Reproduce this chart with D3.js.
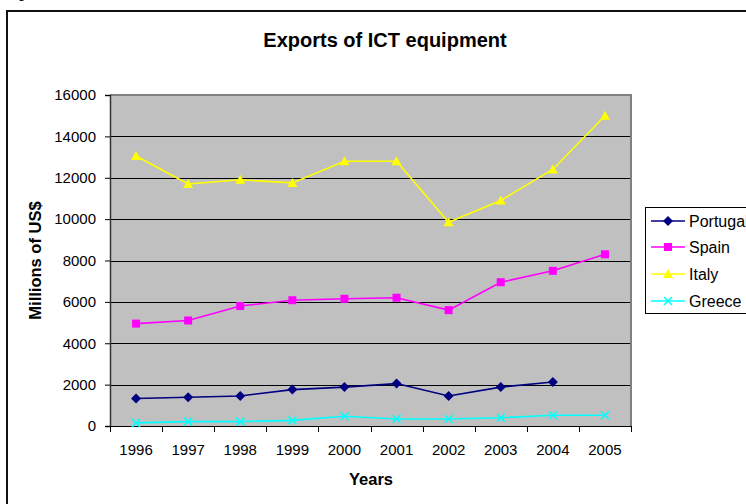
<!DOCTYPE html>
<html>
<head>
<meta charset="utf-8">
<script src="https://cdn.jsdelivr.net/npm/d3@7"></script>
<style>
  html, body { margin: 0; padding: 0; background: #fff; }
  svg { display: block; }
  text { font-family: "Liberation Sans", Arial, sans-serif; }
</style>
</head>
<body>
<svg id="chart" width="746" height="504"></svg>
<script>
// Exports of ICT equipment, millions of US$
const years = ["1996", "1997", "1998", "1999", "2000", "2001", "2002", "2003", "2004", "2005"];
const portugal = [1330, 1390, 1450, 1760, 1880, 2050, 1450, 1880, 2130, null];
const spain    = [4950, 5100, 5800, 6080, 6150, 6200, 5600, 6950, 7500, 8300];
const italy    = [13050, 11700, 11900, 11750, 12800, 12800, 9850, 10900, 12400, 15000];
const greece   = [150, 210, 210, 270, 470, 340, 340, 400, 520, 520];
const yTicks   = [0, 2000, 4000, 6000, 8000, 10000, 12000, 14000, 16000];

const seriesList = [
  { name: "Portugal", values: portugal, color: "#000080", marker: "diamond" },
  { name: "Spain",    values: spain,    color: "#FF00FF", marker: "square" },
  { name: "Italy",    values: italy,    color: "#FFFF00", marker: "triangle" },
  { name: "Greece",   values: greece,   color: "#00FFFF", marker: "cross" }
];

const svg = d3.select("#chart");
const plot = { left: 110, top: 95, right: 631, bottom: 426 };

// Leftover glyph of the surrounding document above the chart frame
svg.append("text").attr("x", 19).attr("y", -4)
  .style("font-family", "'Liberation Serif', 'Times New Roman', serif")
  .style("font-size", "20px").attr("fill", "#000").text("p");

// Chart frame
svg.append("rect").attr("x", 7).attr("y", 11).attr("width", 800).attr("height", 600)
  .attr("fill", "none").attr("stroke", "#111").attr("stroke-width", 2);

const x = d3.scaleBand().domain(years).range([plot.left, plot.right]).padding(0);
const y = d3.scaleLinear().domain([0, 16000]).range([plot.bottom, plot.top]);

// Plot background
svg.append("rect").attr("x", plot.left).attr("y", plot.top)
  .attr("width", plot.right - plot.left).attr("height", plot.bottom - plot.top)
  .attr("fill", "#C0C0C0");

// Horizontal gridlines
svg.append("g").selectAll("line").data(yTicks.filter(d => d > 0 && d < 16000)).join("line")
  .attr("x1", plot.left).attr("x2", plot.right)
  .attr("y1", d => Math.round(y(d)) + 0.5).attr("y2", d => Math.round(y(d)) + 0.5)
  .attr("stroke", "#000").attr("stroke-width", 1);

// Top and right border of the plot area
svg.append("path")
  .attr("d", `M${plot.left},${plot.top} H${plot.right} V${plot.bottom}`)
  .attr("fill", "none").attr("stroke", "#808080").attr("stroke-width", 2);

// Y axis
const yAxis = svg.append("g").attr("transform", `translate(${plot.left},0)`)
  .call(d3.axisLeft(y).tickValues(yTicks).tickSize(5).tickPadding(9).tickFormat(d3.format("d")));
yAxis.select(".domain").attr("stroke", "#333").attr("stroke-width", 1.5);
yAxis.selectAll(".tick line").attr("stroke", "#000");
yAxis.selectAll("text").style("font-size", "15px").attr("fill", "#000");

// X axis with ticks on category boundaries
const xAxisG = svg.append("g").attr("transform", `translate(0,${plot.bottom})`);
xAxisG.append("line").attr("x1", plot.left).attr("x2", plot.right)
  .attr("y1", 0.5).attr("y2", 0.5).attr("stroke", "#000").attr("stroke-width", 1.2);
const boundaries = years.map(d => x(d)).concat([x(years[years.length - 1]) + x.bandwidth()]);
xAxisG.selectAll("line.tk").data(boundaries).join("line").attr("class", "tk")
  .attr("x1", d => Math.round(d) + 0.5).attr("x2", d => Math.round(d) + 0.5)
  .attr("y1", 0).attr("y2", 6).attr("stroke", "#000");
xAxisG.selectAll("text").data(years).join("text")
  .attr("x", d => x(d) + x.bandwidth() / 2).attr("y", 29)
  .attr("text-anchor", "middle").style("font-size", "15px").attr("fill", "#000")
  .text(d => d);

// Titles
svg.append("text").attr("x", 385).attr("y", 47).attr("text-anchor", "middle")
  .style("font-size", "20px").style("font-weight", "bold").text("Exports of ICT equipment");
svg.append("text").attr("x", 371).attr("y", 485).attr("text-anchor", "middle")
  .style("font-size", "16.5px").style("font-weight", "bold").text("Years");
svg.append("text").attr("transform", `translate(41,${(plot.top + plot.bottom) / 2}) rotate(-90)`)
  .attr("text-anchor", "middle").style("font-size", "16.5px").style("font-weight", "bold")
  .text("Millions of US$");

// Marker drawing
function drawMarker(sel, type, color) {
  if (type === "diamond") {
    sel.append("path").attr("d", "M0,-5 L5,0 L0,5 L-5,0 Z").attr("fill", color);
  } else if (type === "square") {
    sel.append("rect").attr("x", -4).attr("y", -4).attr("width", 8).attr("height", 8).attr("fill", color);
  } else if (type === "triangle") {
    sel.append("path").attr("d", "M0,-5 L5,4 L-5,4 Z").attr("fill", color);
  } else if (type === "cross") {
    sel.append("path").attr("d", "M-4,-4 L4,4 M-4,4 L4,-4").attr("stroke", color)
      .attr("stroke-width", 1.6).attr("fill", "none");
  }
}

const cx = d => x(d) + x.bandwidth() / 2;
const line = d3.line().defined(d => d.v != null).x(d => cx(d.year)).y(d => y(d.v));

seriesList.forEach(s => {
  const pts = years.map((yr, i) => ({ year: yr, v: s.values[i] }));
  const g = svg.append("g");
  g.append("path").datum(pts).attr("d", line)
    .attr("fill", "none").attr("stroke", s.color).attr("stroke-width", 1.6);
  pts.filter(d => d.v != null).forEach(d => {
    const m = g.append("g").attr("transform", `translate(${cx(d.year)},${y(d.v)})`);
    drawMarker(m, s.marker, s.color);
  });
});

// Legend
const legend = svg.append("g");
legend.append("rect").attr("x", 645.5).attr("y", 207.5).attr("width", 140).attr("height", 106)
  .attr("fill", "#fff").attr("stroke", "#000").attr("stroke-width", 1);
const legendY = [221, 247, 274, 301];
seriesList.forEach((s, i) => {
  const ly = legendY[i];
  legend.append("line").attr("x1", 651).attr("x2", 685).attr("y1", ly).attr("y2", ly)
    .attr("stroke", s.color).attr("stroke-width", 1.6);
  const m = legend.append("g").attr("transform", `translate(668,${ly})`);
  drawMarker(m, s.marker, s.color);
  legend.append("text").attr("x", 689).attr("y", ly + 6)
    .style("font-size", "16px").attr("fill", "#000").text(s.name);
});
</script>
</body>
</html>
